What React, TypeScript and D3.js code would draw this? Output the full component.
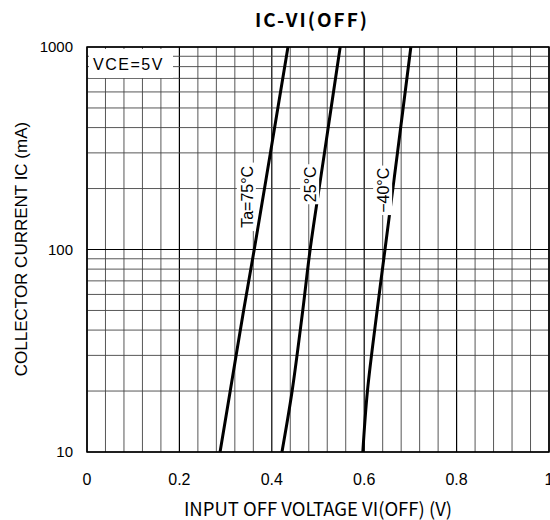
import * as React from 'react'
import * as d3 from 'd3'

// collector current points (mA) and the input off voltage read at each (V)
const currents = [10, 20, 50, 100, 300, 1000]
const v75 = [0.288, 0.31, 0.339, 0.362, 0.397, 0.435]
const v25 = [0.422, 0.444, 0.467, 0.483, 0.514, 0.548]
const vm40 = [0.597, 0.607, 0.628, 0.645, 0.672, 0.701]

const seriesLabels = ['Ta=75°C', '25°C', '−40°C']
const labelV = [0.346, 0.483, 0.641]
const labelI = [182, 210, 196]

const xTicks = [0, 0.2, 0.4, 0.6, 0.8, 1]
const xTickLabels = ['0', '0.2', '0.4', '0.6', '0.8', '1']
const yTicks = [10, 100, 1000]

const W = 550
const H = 520
const left = 87
const right = 549
const top = 47
const bottom = 452

export default function App() {
  const x = d3.scaleLinear().domain([0, 1]).range([left, right])
  const y = d3.scaleLog().domain([10, 1000]).range([bottom, top])

  const line = d3
    .line<[number, number]>()
    .x(d => x(d[0]))
    .y(d => y(d[1]))
    .curve(d3.curveCatmullRom.alpha(0.5))

  const series = [v75, v25, vm40]

  // grid positions
  const vGrid = d3.range(0, 26).map(i => i * 0.04)
  const hGrid: number[] = []
  ;[10, 100].forEach(dec => {
    for (let k = 1; k <= 10; k++) hGrid.push(dec * k)
  })

  const font = '"Liberation Sans", Arial, sans-serif'
  const jfont = '"Noto Sans CJK JP", "Liberation Sans", sans-serif'

  return (
    <svg width={W} height={H} style={{ position: 'absolute', left: 0, top: 0, background: '#fff' }}>
      {/* grid */}
      {vGrid.map((v, i) => {
        const major = i % 5 === 0
        return (
          <line
            key={'v' + i}
            x1={x(v)}
            x2={x(v)}
            y1={top}
            y2={bottom}
            stroke={major ? '#000' : '#444'}
            strokeWidth={major ? 1.2 : 0.9}
          />
        )
      })}
      {hGrid.map((v, i) => {
        const major = Math.abs(Math.log10(v) % 1) < 1e-9
        return (
          <line
            key={'h' + i}
            x1={left}
            x2={right}
            y1={y(v)}
            y2={y(v)}
            stroke={major ? '#000' : '#444'}
            strokeWidth={major ? 1.2 : 0.9}
          />
        )
      })}
      <rect x={left} y={top} width={right - left} height={bottom - top} fill="none" stroke="#000" strokeWidth={1.5} />

      {/* condition box */}
      <rect x={left + 2} y={top + 2} width={84} height={29} fill="#fff" />
      <text x={93} y={70} fontFamily={font} fontSize={16} letterSpacing={1.5} fill="#000">VCE=5V</text>

      {/* curves */}
      {series.map((vals, i) => (
        <path
          key={'s' + i}
          d={line(vals.map((v, j) => [v, currents[j]] as [number, number])) || ''}
          fill="none"
          stroke="#000"
          strokeWidth={3}
        />
      ))}

      {/* curve labels */}
      {seriesLabels.map((lab, i) => {
        const cx = x(labelV[i])
        const cy = y(labelI[i])
        const len = lab.length * 9.5 + 2
        return (
          <g key={'l' + i} transform={`translate(${cx},${cy}) rotate(-90)`}>
            <rect x={-len / 2} y={-10} width={len} height={19} fill="#fff" />
            <text x={0} y={6} textAnchor="middle" fontFamily={font} fontSize={16} fill="#000">
              {lab}
            </text>
          </g>
        )
      })}

      {/* axes labels */}
      {xTicks.map((t, i) => (
        <text key={'xt' + i} x={x(t)} y={485} textAnchor="middle" fontFamily={font} fontSize={16} fill="#000">
          {xTickLabels[i]}
        </text>
      ))}
      {yTicks.map(t => (
        <text key={'yt' + t} x={73} y={y(t) + 5} textAnchor="end" fontFamily={font} fontSize={15} fill="#000">
          {t}
        </text>
      ))}

      <text x={312} y={27} textAnchor="middle" fontFamily={jfont} fontWeight="bold" fontSize={19} letterSpacing={2} fill="#000">
        IC-VI(OFF)
      </text>
      <text x={318} y={516} textAnchor="middle" fontFamily={jfont} fontSize={18.5} fill="#000">
        INPUT OFF VOLTAGE VI(OFF) (V)
      </text>
      <text
        transform={`translate(27,249) rotate(-90)`}
        textAnchor="middle"
        fontFamily={font}
        fontSize={17}
        fill="#000"
      >
        COLLECTOR CURRENT IC (mA)
      </text>
    </svg>
  )
}
